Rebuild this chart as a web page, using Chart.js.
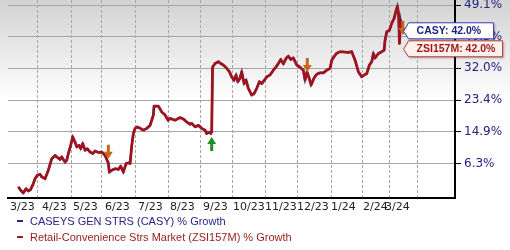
<!DOCTYPE html>
<html><head><meta charset="utf-8">
<script src="https://cdn.jsdelivr.net/npm/chart.js@4/dist/chart.umd.min.js"></script>
<style>
html,body{margin:0;padding:0;background:#fff;}
#wrap{position:relative;width:510px;height:250px;overflow:hidden;background:linear-gradient(#d2d2d2 0px,#ffffff 100px);}
#c{position:absolute;left:0;top:0;}
.leg{position:absolute;left:17px;height:14px;line-height:14px;font:11px "Liberation Sans",Arial,sans-serif;white-space:nowrap;}
.leg i{display:inline-block;width:6px;height:2px;vertical-align:middle;margin-right:7px;position:relative;top:-1px;}
</style></head>
<body>
<div id="wrap">
<canvas id="c" width="510" height="216"></canvas>
<div class="leg" style="top:215px;color:#25258a;"><i style="background:#25258a"></i>CASEYS GEN STRS (CASY) % Growth</div>
<div class="leg" style="top:231px;color:#941c1c;"><i style="background:#a01a22"></i>Retail-Convenience Strs Market (ZSI157M) % Growth</div>
</div>
<script>
// day offsets from the start of the axis (x), and % growth series
const dayOffsets = [9.7,11.9,14.4,16.9,19.1,21.3,23.8,25.4,27.5,30.1,31.7,34.8,37.9,41.1,44.2,45.8,48.9,50.5,53.6,55.2,56.7,58.9,60.8,63.0,64.6,66.7,68.3,70.2,72.4,74.5,77.1,79.6,81.8,84.9,88.1,91.2,92.8,94.3,95.2,97.5,100.6,103.7,105.9,108.4,110.9,113.1,114.7,116.3,117.8,119.4,121.5,124.1,127.2,130.4,133.5,136.6,137.2,141.3,144.5,147.6,150.4,152.3,157.0,161.7,164.8,168.0,171.1,172.7,175.8,178.9,182.0,185.2,186.7,188.9,190.5,191.4,192.2,194.5,197.7,199.9,202.3,205.5,208.0,210.2,212.4,214.3,215.9,218.0,219.6,221.8,223.7,225.8,229.0,231.2,233.7,236.2,238.4,240.9,243.1,246.2,249.3,251.9,254.0,256.3,258.7,261.3,263.4,265.7,268.1,271.3,274.4,277.5,279.1,281.0,282.9,284.8,287.6,290.1,293.2,296.3,299.5,302.6,304.2,306.7,308.9,312.0,316.7,319.8,323.0,326.1,329.2,332.4,334.6,337.1,339.6,341.8,343.3,344.9,348.0,351.2,353.4,354.3,355.9,358.4,360.6,362.8,364.4,365.9,367.0,367.8,368.9,370.3,371.7];
const zsiGrowth = [0.0,-0.9,-1.65,-0.5,-1.1,-0.7,0.9,2.2,3.1,3.4,2.7,2.2,4.5,7.6,8.5,8.1,7.4,8.1,6.7,7.2,9.0,11.2,13.5,12.1,10.8,11.2,10.3,11.7,9.9,10.3,9.4,9.0,9.7,9.3,9.4,8.5,7.4,6.4,4.0,4.5,4.9,4.7,5.6,4.0,6.3,6.5,6.3,11.2,14.4,15.8,16.2,15.8,15.3,15.8,16.6,19.4,21.8,21.8,20.2,19.4,18.0,18.5,18.0,18.7,18.3,17.5,16.9,17.1,16.2,16.6,15.8,15.3,14.4,14.8,14.4,14.8,32.3,33.3,33.8,33.3,32.9,32.0,31.1,29.7,28.8,30.2,28.4,29.3,31.1,27.9,28.8,26.6,24.8,25.2,26.6,28.4,27.9,28.8,29.7,30.2,31.5,32.4,33.3,34.4,33.2,34.7,35.3,34.4,34.8,32.9,32.3,31.5,28.8,31.0,29.4,27.5,29.4,30.4,30.8,30.8,31.5,32.0,34.2,35.3,36.1,36.5,36.4,36.3,36.5,34.2,31.1,29.7,30.2,30.6,32.9,33.8,36.0,34.8,36.0,36.5,36.9,39.6,41.9,42.3,44.2,45.5,47.3,48.8,46.7,38.7,45.0,42.9,42.0];
const casyGrowth = [0.0,-0.9,-1.65,-0.5,-1.1,-0.7,0.9,2.2,3.1,3.4,2.7,2.2,4.5,7.6,8.5,8.1,7.4,8.1,6.7,7.2,9.0,11.2,13.5,12.1,10.8,11.2,10.3,11.7,9.9,10.3,9.4,9.0,9.7,9.3,9.4,8.5,7.4,6.4,4.0,4.5,4.9,4.7,5.6,4.0,6.3,6.5,6.3,11.2,14.4,15.8,16.2,15.8,15.3,15.8,16.6,19.4,21.8,21.8,20.2,19.4,18.0,18.5,18.0,18.7,18.3,17.5,16.9,17.1,16.2,16.6,15.8,15.3,14.4,14.8,14.4,14.8,32.3,33.3,33.8,33.3,32.9,32.0,31.1,29.7,28.8,30.2,28.4,29.3,31.1,27.9,28.8,26.6,24.8,25.2,26.6,28.4,27.9,28.8,29.7,30.2,31.5,32.4,33.3,34.4,33.2,34.7,35.3,34.4,34.8,32.9,32.3,31.5,28.8,31.0,29.4,27.5,29.4,30.4,30.8,30.8,31.5,32.0,34.2,35.3,36.1,36.5,36.4,36.3,36.5,34.2,31.1,29.7,30.2,30.6,32.9,33.8,36.0,34.8,36.0,36.5,36.9,39.6,41.9,42.3,44.2,45.5,47.3,48.8,46.7,38.7,45.0,42.9,42.0];

const yTickValues = [6.3,14.9,23.4,32.0,40.5,49.1];
const monthGridDays = [27.3,59.2,88.3,119.4,150.4,180.5,210.5,241.5,271.6,303.6,332.7,358.1,384.4];
const monthLabelDays = [1.9,32.0,61.1,91.2,122.2,152.3,183.3,211.5,241.5,271.6,303.6,333.6,354.3];
const monthLabels = ['3/23','4/23','5/23','6/23','7/23','8/23','9/23','10/23','11/23','12/23','1/24','2/24','3/24'];

// event markers (day, direction, value at arrow tip)
const eventDays = [94.3,191.4,281.2,371.0];
const eventKinds = ['down','up','down','down'];
const eventTipValues = [7.6,13.5,31.0,41.0];

const seriesNames = ['CASY','ZSI157M'];

function pts(vals){ return dayOffsets.map((d,i)=>({x:d,y:vals[i]})); }

const arrowPlugin = {
  id:'arrows',
  afterDatasetsDraw(chart){
    const {ctx} = chart; const xs = chart.scales.x, ys = chart.scales.y;
    eventDays.forEach((d,i)=>{
      const x = xs.getPixelForValue(d), tip = ys.getPixelForValue(eventTipValues[i]);
      const down = eventKinds[i]==='down';
      const s = down ? -1 : 1;
      ctx.save();
      ctx.fillStyle = down ? '#c8661c' : '#1f8f1f';
      ctx.beginPath();
      ctx.moveTo(x, tip);
      ctx.lineTo(x-4.5, tip + s*7);
      ctx.lineTo(x-1.5, tip + s*7);
      ctx.lineTo(x-1.5, tip + s*14);
      ctx.lineTo(x+1.5, tip + s*14);
      ctx.lineTo(x+1.5, tip + s*7);
      ctx.lineTo(x+4.5, tip + s*7);
      ctx.closePath();
      ctx.fill();
      ctx.restore();
    });
  }
};

function tag(ctx, x, y, w, text, stroke, fill, color){
  ctx.save();
  ctx.shadowColor='rgba(0,0,0,0.25)'; ctx.shadowOffsetX=1.5; ctx.shadowOffsetY=1.5; ctx.shadowBlur=2;
  ctx.beginPath();
  ctx.moveTo(x, y);
  ctx.lineTo(x+5, y-8.5);
  ctx.lineTo(x+w, y-8.5);
  ctx.lineTo(x+w, y+7.5);
  ctx.lineTo(x+5, y+7.5);
  ctx.closePath();
  ctx.fillStyle=fill; ctx.fill();
  ctx.shadowColor='transparent';
  ctx.lineWidth=1; ctx.strokeStyle=stroke; ctx.stroke();
  ctx.fillStyle=color; ctx.font='bold 10.5px "Liberation Sans", Arial, sans-serif';
  ctx.textBaseline='middle'; ctx.textAlign='left';
  ctx.fillText(text, x+13, y);
  ctx.restore();
}

const tagPlugin = {
  id:'tags',
  afterDraw(chart){
    const {ctx} = chart; const xs = chart.scales.x, ys = chart.scales.y;
    const n = dayOffsets.length-1;
    const px = xs.getPixelForValue(dayOffsets[n]);
    const pyC = ys.getPixelForValue(casyGrowth[n]);
    const pyZ = ys.getPixelForValue(zsiGrowth[n]);
    tag(ctx, px, pyC, 90, seriesNames[0]+': '+casyGrowth[n].toFixed(1)+'%', '#3a3aa8', '#ffffff', '#1e1e7e');
    tag(ctx, px, pyZ+18, 99, seriesNames[1]+': '+zsiGrowth[n].toFixed(1)+'%', '#b83232', '#fdf1ee', '#9a1616');
  }
};

new Chart(document.getElementById('c'), {
  type:'line',
  data:{ datasets:[
    {label:'ZSI157M', data:pts(zsiGrowth), borderColor:'#9c1420', borderWidth:2.8, pointRadius:0, tension:0, borderJoinStyle:'round', fill:false, xAxisID:'x', yAxisID:'y', order:0},
    {label:'CASY', data:pts(casyGrowth), borderColor:'#25258a', borderWidth:2, pointRadius:0, tension:0, fill:false, xAxisID:'x', yAxisID:'y', order:1}
  ]},
  options:{
    responsive:false, animation:false, events:[],
    layout:{padding:{left:8,top:0,right:0,bottom:0}},
    plugins:{legend:{display:false}, tooltip:{enabled:false}},
    scales:{
      x:{type:'linear', position:'bottom', min:0, max:420,
        afterBuildTicks:s=>{ s.ticks = monthGridDays.map(v=>({value:v})); },
        grid:{display:true, drawOnChartArea:true, drawTicks:false, color:'#a6a6a6', lineWidth:1},
        border:{display:true, color:'#000', width:2, dash:[3,2]},
        ticks:{display:false},
        afterFit:s=>{ s.height=0; s.paddingLeft=0; s.paddingRight=0; }
      },
      x2:{type:'linear', position:'bottom', min:0, max:420,
        afterBuildTicks:s=>{ s.ticks = monthLabelDays.map(v=>({value:v})); },
        grid:{display:false, drawTicks:false},
        border:{display:false},
        ticks:{autoSkip:false, maxRotation:0, minRotation:0, align:'start', padding:3, color:'#222',
          font:{family:'DejaVu Sans', size:11}, callback:(v,i)=>monthLabels[i]},
        afterFit:s=>{ s.height=18; s.paddingLeft=0; s.paddingRight=0; }
      },
      y:{type:'linear', position:'right', min:-3.0, max:50.45,
        afterBuildTicks:s=>{ s.ticks = yTickValues.map(v=>({value:v})); },
        grid:{display:true, drawOnChartArea:true, color:'#a6a6a6', lineWidth:1, tickLength:6, tickColor:'#000', tickWidth:1, tickBorderDash:[]},
        border:{display:true, color:'#000', width:2},
        ticks:{color:'#22227e', padding:3, font:{family:'DejaVu Sans', size:12}, callback:v=>v.toFixed(1)+'%'},
        afterFit:s=>{ s.width=55; s.paddingTop=0; s.paddingBottom=0; }
      }
    }
  },
  plugins:[arrowPlugin, tagPlugin]
});
</script>
</body></html>
